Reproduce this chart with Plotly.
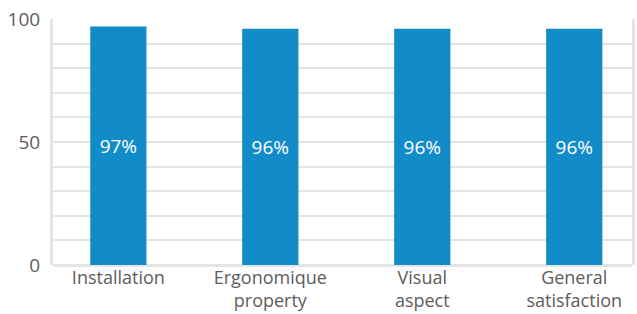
import plotly.graph_objects as go

categories = ["Installation", "Ergonomique<br>property", "Visual<br>aspect", "General<br>satisfaction"]
values = [97, 96, 96, 96]
labels = ["97%", "96%", "96%", "96%"]
y_ticks = [0, 50, 100]

grid = "#e4e4e4"
fig = go.Figure(go.Bar(
    x=categories, y=values, text=labels,
    textposition="inside", insidetextanchor="middle",
    textfont=dict(color="white", size=19, family="Open Sans"),
    marker=dict(color="#128cc9", line=dict(width=0)),
    width=0.37,
))
fig.update_layout(
    width=637, height=314,
    margin=dict(l=53, r=5, t=19, b=49),
    paper_bgcolor="white", plot_bgcolor="white",
    showlegend=False,
    font=dict(family="Open Sans", size=19, color="#5c5c5c"),
)
fig.update_xaxes(range=[-0.43, 3.38], showgrid=False, ticks="", tickfont=dict(size=18),
                 showline=False, ticklabelstandoff=0, automargin=False)
fig.update_yaxes(range=[0, 100], tickvals=y_ticks, showgrid=True, gridcolor=grid, gridwidth=2,
                 minor=dict(dtick=10, showgrid=True, gridcolor=grid, gridwidth=2),
                 showline=True, linecolor=grid, linewidth=3, mirror=True,
                 zeroline=True, zerolinecolor=grid, zerolinewidth=3,
                 ticks="", ticklabelstandoff=6, tickfont=dict(size=19),
                 ticklabeloverflow="allow", automargin=False)
fig.write_html("out.html", config={"displayModeBar": False},
               post_script="document.body.style.margin='0';")
